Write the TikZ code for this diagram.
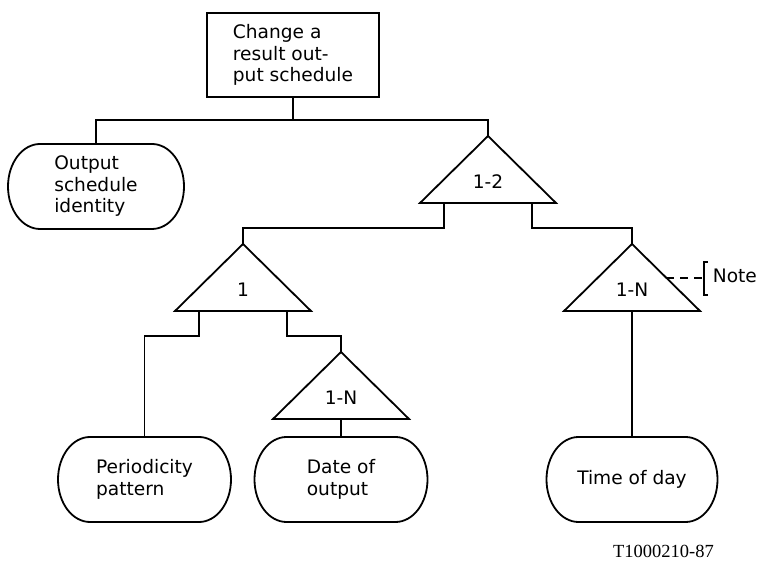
\documentclass[tikz,border=0pt]{standalone}
\usepackage{fontspec}
\setmainfont{DejaVu Sans}
\newfontfamily\figfont{Liberation Serif}
\usetikzlibrary{calc}
\tikzset{
  lbl/.style={font=\fontsize{18.6}{21.5}\selectfont, inner sep=0pt},
  capbox/.style={lbl, align=left, minimum width=173pt, minimum height=85pt, outer sep=0pt},
  rectbox/.style={lbl, draw, align=left, minimum width=172pt, minimum height=84pt},
  conn/.style={line width=1.8pt},
  notedash/.style={line width=1.8pt, dash pattern=on 8pt off 6pt},
}
\newcommand{\capsule}[1]{%
  \draw[conn] ([xshift=32pt]#1.north west) -- ([xshift=-32pt]#1.north east)
    arc[start angle=90,end angle=-90,x radius=32pt,y radius=42.5pt]
    -- ([xshift=32pt]#1.south west)
    arc[start angle=270,end angle=90,x radius=32pt,y radius=42.5pt] -- cycle;}
% triangle: name, apex x, apex y, label
\newcommand{\tri}[4]{%
  \coordinate (#1-apex) at (#2,#3);
  \coordinate (#1-l) at (#2-68,#3-67);
  \coordinate (#1-r) at (#2+68,#3-67);
  \coordinate (#1-b) at (#2,#3-67);
  \coordinate (#1-bl) at (#2-44,#3-67);
  \coordinate (#1-br) at (#2+44,#3-67);
  \draw[conn, line join=miter] (#1-apex) -- (#1-l) -- (#1-r) -- cycle;
  \node[lbl] (#1) at (#2,#3-46) {#4};}
\begin{document}
\begin{tikzpicture}[x=1pt,y=1pt,line width=1.8pt]
\useasboundingbox (0,0) rectangle (760,562);

% boxes
\node[rectbox, line width=1.8pt] (top) at (293,507) {Change a\\result out-\\put schedule};
\node[capbox, minimum width=176pt] (out) at (96,375.5) {Output\\schedule\\identity};
\capsule{out}
\node[capbox] (per) at (144.5,82.5) {Periodicity\\pattern};
\capsule{per}
\node[capbox] (date) at (341,82.5) {Date of\\output};
\capsule{date}
\node[capbox, minimum width=171pt] (time) at (632,82.5) {Time of day};
\capsule{time}

% triangles
\tri{t12}{488}{426}{1-2}
\tri{t1}{243}{318}{1}
\tri{tna}{341}{210}{1-N}
\tri{tnb}{632}{318}{1-N}

% connectors
\draw[conn] (top.south) -- ++(0,-22) coordinate (j1);
\draw[conn] (j1) -| (out.north);
\draw[conn] (j1) -| (t12-apex);
\draw[conn] (t12-bl) -- ++(0,-25) -| (t1-apex);
\draw[conn] (t12-br) -- ++(0,-25) -| (tnb-apex);
\draw[conn] (t1-bl) -- ++(0,-25) -| (per.north);
\draw[conn] (t1-br) -- ++(0,-25) -| (tna-apex);
\draw[conn] (tna-b) -- (date.north);
\draw[conn] (tnb-b) -- (time.north);

% note
\node[lbl, anchor=west] (note) at (712,286) {Note};
\coordinate (nstart) at (666,284);
\coordinate (nend) at (704,284);
\draw[notedash] (nstart) -- (nend);
\draw[conn] (707.5,300) -- (704,300) -- (704,267) -- (707.5,267);

% figure id
\node[font=\figfont\fontsize{18.5}{20}\selectfont, inner sep=0pt, anchor=base] (fid) at (663.5,5) {T1000210-87};
\end{tikzpicture}
\end{document}
